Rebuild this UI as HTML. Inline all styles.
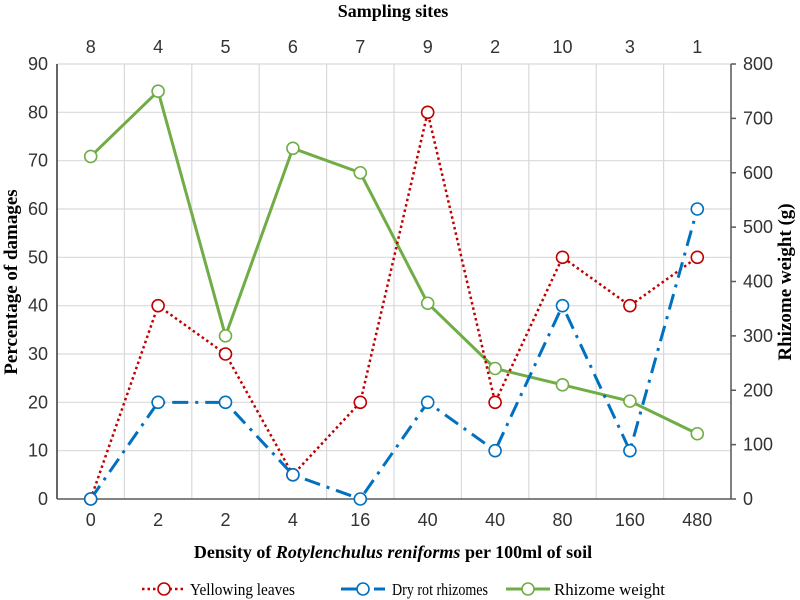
<!DOCTYPE html>
<html><head><meta charset="utf-8"><style>
body{margin:0;background:#fff;}
svg{display:block;font-family:"Liberation Sans",sans-serif;}
.serif{font-family:"Liberation Serif",serif;}
</style></head><body>
<svg id="chart" width="800" height="600" viewBox="0 0 800 600">
<g id="grid"></g>
<g id="axes"></g>
<g id="series"></g>
<text class="serif" x="393" y="17" text-anchor="middle" font-size="18" font-weight="bold">Sampling sites</text>
<text class="serif" x="393" y="558" text-anchor="middle" font-size="18" font-weight="bold">Density of <tspan font-style="italic">Rotylenchulus reniforms</tspan> per 100ml of soil</text>
<text class="serif" transform="translate(17,282) rotate(-90)" text-anchor="middle" font-size="19" font-weight="bold">Percentage of damages</text>
<text class="serif" transform="translate(791,282) rotate(-90)" text-anchor="middle" font-size="19" font-weight="bold">Rhizome weight (g)</text>
<g id="legend"></g>
</svg>
<script>
const densities=["0","2","2","4","16","40","40","80","160","480"];
const sites=["8","4","5","6","7","9","2","10","3","1"];
const yellowing=[0,40,30,5,20,80,20,50,40,50];
const dryRot=[0,20,20,5,0,20,10,40,10,60];
const rhizome=[630,750,300,645,600,360,240,210,180,120];
const leftTicks=[0,10,20,30,40,50,60,70,80,90];
const rightTicks=[0,100,200,300,400,500,600,700,800];
const NS="http://www.w3.org/2000/svg";
const X0=57,X1=731,Y0=499,Y1=64;
const band=(X1-X0)/densities.length;
const xs=i=>X0+band*(i+0.5);
const yL=v=>Y0-(v/90)*(Y0-Y1);
const yR=v=>Y0-(v/800)*(Y0-Y1);
function mk(tag,attrs,parent){const e=document.createElementNS(NS,tag);for(const k in attrs)e.setAttribute(k,attrs[k]);parent.appendChild(e);return e;}
const grid=document.getElementById('grid'),axes=document.getElementById('axes'),ser=document.getElementById('series'),leg=document.getElementById('legend');
leftTicks.forEach(t=>{
 if(t>0){const g=mk('line',{x1:X0,x2:X1,y1:yL(t),y2:yL(t),stroke:'#d9d9d9','stroke-width':1.2},grid);
 
 }
 const tx=mk('text',{x:X0-9,y:yL(t)+6,'text-anchor':'end','font-size':18,fill:'#333'},axes);tx.textContent=t;
 
 
});
for(let i=1;i<=densities.length;i++){
 const g=mk('line',{x1:X0+band*i,x2:X0+band*i,y1:Y1,y2:Y0,stroke:'#d9d9d9','stroke-width':1.2},grid);
 
 
}
rightTicks.forEach(t=>{
 mk('line',{x1:X1,x2:X1+5,y1:yR(t),y2:yR(t),stroke:'#595959','stroke-width':1.5},axes);
 const tx=mk('text',{x:X1+12,y:yR(t)+6,'font-size':18,fill:'#333'},axes);tx.textContent=t;
 
 
});
densities.forEach((d,i)=>{
 const a=mk('text',{x:xs(i),y:526,'text-anchor':'middle','font-size':18,fill:'#333'},axes);a.textContent=d;
 
 
 const b=mk('text',{x:xs(i),y:53,'text-anchor':'middle','font-size':18,fill:'#333'},axes);b.textContent=sites[i];
 
 
});
mk('line',{x1:X0,x2:X0,y1:Y1,y2:Y0,stroke:'#333','stroke-width':1.5},axes);
mk('line',{x1:X1,x2:X1,y1:Y1,y2:Y0,stroke:'#595959','stroke-width':1.5},axes);
mk('line',{x1:X0,x2:X1,y1:Y0,y2:Y0,stroke:'#595959','stroke-width':1.5},axes);
function series(vals,yf,color,dash,width,name){
 const g=mk('g',{},ser);
 
 
 const pts=vals.map((v,i)=>xs(i)+','+yf(v)).join(' ');
 mk('polyline',{points:pts,fill:'none',stroke:color,'stroke-width':width,'stroke-dasharray':dash,'stroke-linecap':'butt'},g);
 vals.forEach((v,i)=>{
  const c=mk('circle',{cx:xs(i),cy:yf(v),r:6,fill:'#fff',stroke:color,'stroke-width':1.6},g);
  
  
 });
}
series(rhizome,yR,'#70ad47','',3,'rhizome-weight-line');
series(yellowing,yL,'#c00000','2.5 3',2.5,'yellowing-leaves-line');
series(dryRot,yL,'#0070c0','16 7 3 7',3,'dry-rot-line');
const items=[['Yellowing leaves','#c00000','2.5 3',2.5,142,190,105],['Dry rot rhizomes','#0070c0','16 7 3 7',3,341,392,96],['Rhizome weight','#70ad47','',3,506,554,111]];
items.forEach(it=>{
 const g=mk('g',{},leg);
 
 
 const x=it[4];
 mk('line',{x1:x,x2:x+44,y1:589,y2:589,stroke:it[1],'stroke-width':it[3],'stroke-dasharray':it[2]},g);
 mk('circle',{cx:x+22,cy:589,r:6,fill:'#fff',stroke:it[1],'stroke-width':1.6},g);
 const t=mk('text',{x:it[5],y:595,'font-size':17,textLength:it[6],lengthAdjust:'spacingAndGlyphs','font-family':'Liberation Serif, serif'},g);t.textContent=it[0];
});
</script>
</body></html>
